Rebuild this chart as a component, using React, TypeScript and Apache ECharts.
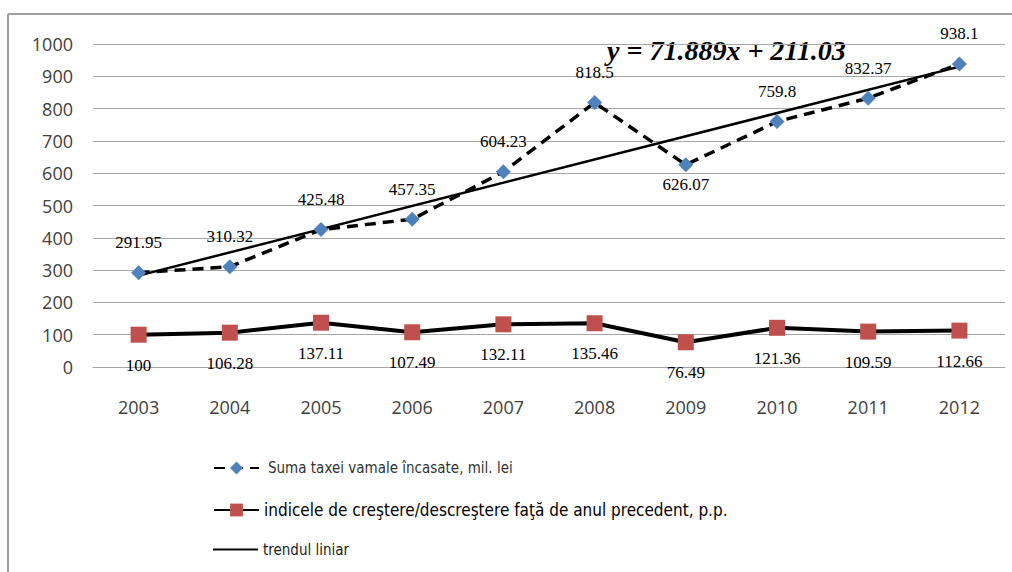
import React, { useEffect, useRef } from "react";
import * as echarts from "echarts";

const years = ["2003", "2004", "2005", "2006", "2007", "2008", "2009", "2010", "2011", "2012"];
const sumaTaxei = [291.95, 310.32, 425.48, 457.35, 604.23, 818.5, 626.07, 759.8, 832.37, 938.1];
const indice = [100, 106.28, 137.11, 107.49, 132.11, 135.46, 76.49, 121.36, 109.59, 112.66];
// linear trend end points (first and last year), as drawn in the picture
const trendValues = [282.92, null, null, null, null, null, null, null, null, 929.92];
const labelsBelowSuma = ["2009"];
const yTicks = { min: 0, max: 1000, interval: 100 };

const S1 = "Suma taxei vamale încasate, mil. lei";
const S2 = "indicele de creştere/descreştere faţă de anul precedent, p.p.";
const S3 = "trendul liniar";
const equation = "y = 71.889x + 211.03";

export default function App() {
  const ref = useRef<HTMLDivElement>(null);
  useEffect(() => {
    if (!ref.current) return;
    const chart = echarts.init(ref.current, null, { renderer: "svg" });
    const labelFont = { fontFamily: "Liberation Serif, Times New Roman, serif", fontSize: 17, color: "#000" };
    const legendFont = "DejaVu Sans Condensed, sans-serif";
    const legendBase = {
      orient: "vertical",
      left: 208,
      itemWidth: 45,
      itemHeight: 16,
      itemGap: 0,
      selectedMode: false,
    };
    chart.setOption({
      animation: false,
      backgroundColor: "#fff",
      grid: { left: 93, right: 7, top: 44, bottom: 205 },
      xAxis: {
        type: "category",
        data: years,
        boundaryGap: true,
        axisTick: { show: false },
        axisLine: { lineStyle: { color: "#a6a6a6", width: 1 } },
        axisLabel: { margin: 31, fontFamily: "Open Sans, sans-serif", fontSize: 18, color: "#404040" },
      },
      yAxis: {
        type: "value",
        min: yTicks.min,
        max: yTicks.max,
        interval: yTicks.interval,
        axisLine: { show: false },
        axisTick: { show: false },
        splitLine: { lineStyle: { color: "#a6a6a6", width: 1 } },
        axisLabel: {
          margin: 20,
          fontFamily: "Open Sans, sans-serif",
          fontSize: 18,
          color: "#404040",
          formatter: (v: number) => String(v),
        },
      },
      legend: [
        {
          ...legendBase,
          top: 453,
          data: [{ name: S1, textStyle: { fontFamily: legendFont, fontSize: 15, color: "#333", lineHeight: 20, padding: [0, 0, 0, 4] } }],
        },
        {
          ...legendBase,
          top: 495,
          data: [{ name: S2, textStyle: { fontFamily: legendFont, fontSize: 17, color: "#000", lineHeight: 20 } }],
        },
        {
          ...legendBase,
          top: 537,
          itemHeight: 2,
          data: [{ name: S3, icon: "rect", itemStyle: { color: "#000" }, textStyle: { fontFamily: legendFont, fontSize: 15, color: "#222" } }],
        },
      ],
      graphic: [
        { type: "line", shape: { x1: 8, y1: 14, x2: 1012, y2: 14 }, style: { stroke: "#a0a0a0", lineWidth: 2 } },
        { type: "line", shape: { x1: 8, y1: 14, x2: 8, y2: 572 }, style: { stroke: "#a0a0a0", lineWidth: 2 } },
        {
          type: "text",
          left: 607,
          top: 36,
          style: {
            text: equation,
            font: "italic bold 28px 'Liberation Serif', 'Times New Roman', serif",
            fill: "#000",
          },
        },
      ],
      series: [
        {
          name: S1,
          type: "line",
          data: sumaTaxei.map((v, i) =>
            labelsBelowSuma.includes(years[i])
              ? { value: v, label: { position: "bottom", distance: 4 } }
              : v
          ),
          symbol: "diamond",
          symbolSize: 15,
          itemStyle: { color: "#4F81BD" },
          lineStyle: { color: "#000", width: 3.5, type: [11, 7] },
          label: { show: true, position: "top", distance: 14, ...labelFont },
          z: 3,
        },
        {
          name: S2,
          type: "line",
          data: indice,
          symbol: "rect",
          symbolSize: 16,
          itemStyle: { color: "#C0504D" },
          lineStyle: { color: "#000", width: 4 },
          label: { show: true, position: "bottom", distance: 14, ...labelFont },
          z: 3,
        },
        {
          name: S3,
          type: "line",
          data: trendValues,
          connectNulls: true,
          symbol: "none",
          lineStyle: { color: "#000", width: 2.5 },
          itemStyle: { color: "#000" },
          z: 2,
        },
      ],
    });
    return () => chart.dispose();
  }, []);
  return (
    <div
      ref={ref}
      style={{ position: "absolute", left: 0, top: 0, width: 1012, height: 572, background: "#fff" }}
    />
  );
}
